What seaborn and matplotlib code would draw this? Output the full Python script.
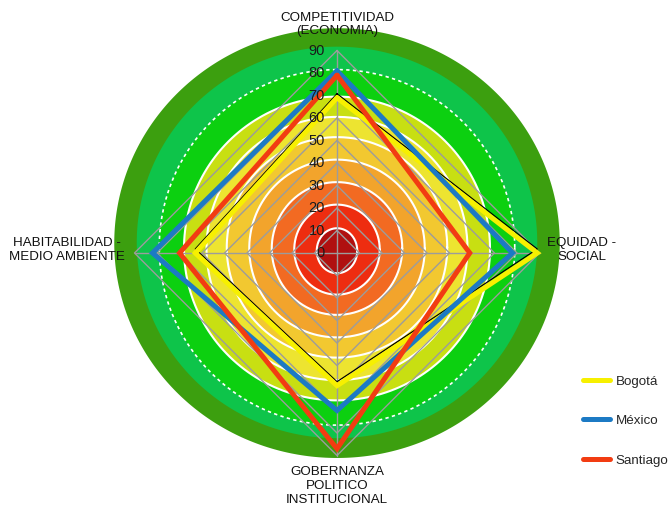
import numpy as np
import pandas as pd
import matplotlib
matplotlib.use("Agg")
import matplotlib.pyplot as plt
import matplotlib.transforms as mtransforms
from matplotlib.lines import Line2D
import seaborn as sns

# Dimensions (clockwise from the top) and scores per city
categories = [
    "COMPETITIVIDAD\n(ECONOMIA)",
    "EQUIDAD -\nSOCIAL",
    "GOBERNANZA\nPOLITICO\nINSTITUCIONAL",
    "HABITABILIDAD -\nMEDIO AMBIENTE",
]
cities = ["Bogotá", "México", "Santiago"]
bogota = [69, 89, 59, 63]
mexico = [81, 78, 70, 82]
santiago = [79, 59, 87, 70]
tick_values = [0, 10, 20, 30, 40, 50, 60, 70, 80, 90]

city_colors = {"Bogotá": "#f7f000", "México": "#1c7ac4", "Santiago": "#f23c12"}

sns.set_style("white")
plt.rcParams["font.family"] = ["Liberation Sans", "DejaVu Sans"]

fig = plt.figure(figsize=(6.68, 5.11), dpi=100)
ax = fig.add_axes([112 / 668, 33 / 511, 450 / 668, 450 / 511], projection="polar")
ax.set_theta_zero_location("N")
ax.set_theta_direction(-1)
ax.set_ylim(0, 100)
ax.axis("off")

angles = np.linspace(0, 2 * np.pi, len(categories), endpoint=False)
closed_angles = np.append(angles, 2 * np.pi)


def ellipse(rx, ry, dy, n=400):
    t = np.linspace(0, 2 * np.pi, n)
    x = rx * np.cos(t)
    y = ry * np.sin(t) + dy
    th = np.unwrap(np.arctan2(x, y))
    return th, np.hypot(x, y)


# background colour bands, innermost first
band_colors = ["#b01010", "#ee2d10", "#f26a22", "#f2a42c", "#f2c830",
               "#ede430", "#c8df12", "#0cd010", "#0ec44a", "#3c9f0f"]
band_rx = [9, 19, 29, 39, 49, 58, 68, 79, 89, 99]
band_ry = [10, 20, 29.5, 39.5, 49, 58.5, 67.5, 79, 87, 95.5]
band_dy = [1, 1.5, 2, 2, 2.5, 2, 2, 2.5, 4.7, 4.4]
for i in range(len(band_rx) - 1, -1, -1):
    th, r = ellipse(band_rx[i], band_ry[i], band_dy[i])
    ax.fill(th, r, color=band_colors[i], lw=0, zorder=0.5, clip_on=False)

# white outlines between the bands
for i in range(8):
    th, r = ellipse(band_rx[i], band_ry[i], band_dy[i])
    ls = "-" if i < 7 else (0, (2, 2))
    ax.plot(th, r, color="white", lw=1.5 if i < 7 else 1.2, ls=ls, zorder=0.8, clip_on=False)

# polygon grid and spokes
for lev in tick_values[1:]:
    ax.plot(closed_angles, [lev] * len(closed_angles), color="#9c9c9c", lw=1.0, zorder=1)
for a in angles:
    ax.plot([a, a], [0, 90], color="#9c9c9c", lw=1.0, zorder=1)

# radial tick labels along the top spoke
for v in tick_values:
    ax.annotate(str(v), xy=(0, v), xytext=(-12, 0), textcoords="offset pixels",
                ha="right", va="center", fontsize=10.5, color="#1a1a1a", zorder=5)

# series data
rows = []
for city, vals in zip(cities, [bogota, mexico, santiago]):
    for th, v in zip(closed_angles, vals + vals[:1]):
        rows.append({"city": city, "theta": th, "value": v})
df = pd.DataFrame(rows)

# thin dark edge slightly above the Bogotá outline
shift = mtransforms.ScaledTranslation(0, 4 / 100, fig.dpi_scale_trans)
ax.plot(closed_angles, bogota + bogota[:1], color="black", lw=0.9,
        transform=ax.transData + shift, zorder=1.5, solid_joinstyle="miter")

sns.lineplot(data=df, x="theta", y="value", hue="city", hue_order=cities,
             palette=city_colors, sort=False, estimator=None, lw=3.6,
             legend=False, ax=ax, solid_joinstyle="miter", zorder=2)

# axis labels
label_kw = dict(ha="center", va="center", fontsize=9.6, color="#111111", linespacing=1.2)
fig.text(337 / 668, 1 - 24.5 / 511, categories[0], **label_kw)
fig.text(582 / 668, 1 - 250 / 511, categories[1], **label_kw)
fig.text(337 / 668, 1 - 486 / 511, categories[2], **label_kw)
fig.text(67 / 668, 1 - 250 / 511, categories[3], **label_kw)

handles = [Line2D([0], [0], color=city_colors[c], lw=3.6) for c in cities]
fig.legend(handles, cities, loc="center left", bbox_to_anchor=(583 / 668, 1 - 421 / 511),
           frameon=False, fontsize=9.6, handlelength=2.05, handletextpad=0.4,
           labelspacing=2.05, borderpad=0, borderaxespad=0)

fig.savefig("out.png", dpi=100)
